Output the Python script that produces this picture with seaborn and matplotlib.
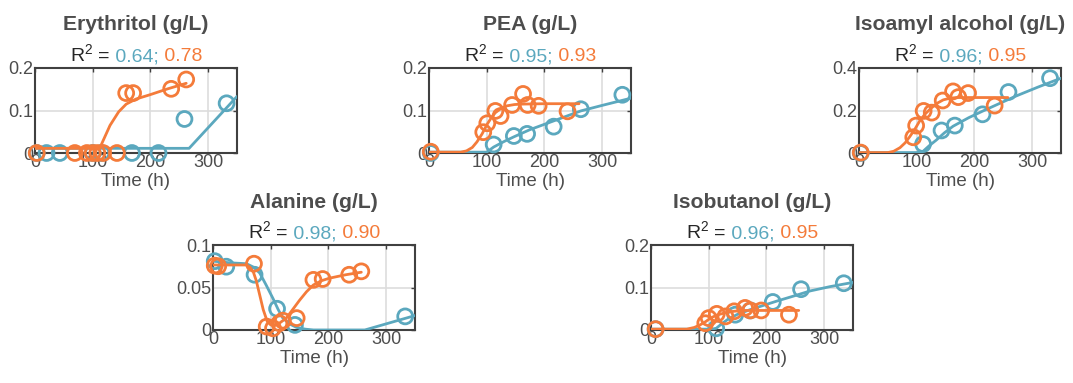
import numpy as np
import pandas as pd
import seaborn as sns
import matplotlib
matplotlib.use('Agg')
import matplotlib.pyplot as plt
from matplotlib.ticker import FuncFormatter
from matplotlib.offsetbox import TextArea, HPacker, AnchoredOffsetbox

# colours for the two strains
teal = '#5BA8BE'
orange = '#F47B3A'

# ---------------- data ----------------
# Erythritol
ery_t_teal = [3, 20, 43, 100, 115, 168, 214, 259, 332]
ery_v_teal = [0, 0, 0, 0, 0, 0, 0, 0.080, 0.117]
ery_t_orng = [3, 69, 90, 100, 108, 118, 142, 158, 170, 236, 262]
ery_v_orng = [0, 0, 0, 0, 0, 0, 0, 0.141, 0.141, 0.151, 0.173]
ery_fit_t_teal = [0, 267, 350]
ery_fit_v_teal = [0.011, 0.011, 0.133]
ery_fit_t_orng = [0, 112, 120, 130, 145, 158, 175, 199, 230, 262]
ery_fit_v_orng = [0.011, 0.011, 0.035, 0.065, 0.097, 0.115, 0.127, 0.137, 0.151, 0.164]

# PEA
pea_t_teal = [3, 112, 147, 170, 216, 263, 335]
pea_v_teal = [0, 0.020, 0.040, 0.045, 0.062, 0.103, 0.137]
pea_t_orng = [3, 94, 101, 115, 124, 144, 163, 171, 190, 240]
pea_v_orng = [0.003, 0.049, 0.070, 0.099, 0.087, 0.113, 0.139, 0.113, 0.111, 0.098]
pea_fit_t_teal = [0, 100, 112, 130, 147, 175, 205, 235, 263, 300, 350]
pea_fit_v_teal = [0.002, 0.002, 0.014, 0.027, 0.038, 0.055, 0.070, 0.085, 0.099, 0.112, 0.129]
pea_fit_t_orng = [0, 55, 65, 75, 83, 92, 100, 108, 115, 125, 135, 148, 160, 200, 260]
pea_fit_v_orng = [0.002, 0.002, 0.005, 0.013, 0.026, 0.045, 0.066, 0.083, 0.095, 0.105,
                  0.111, 0.114, 0.115, 0.116, 0.116]

# Isoamyl alcohol
iso_t_teal = [3, 111, 143, 166, 214, 259, 331]
iso_v_teal = [0, 0.042, 0.106, 0.129, 0.182, 0.287, 0.352]
iso_t_orng = [3, 94, 99, 112, 126, 145, 163, 172, 189, 235]
iso_v_orng = [0.002, 0.074, 0.129, 0.198, 0.190, 0.247, 0.290, 0.263, 0.282, 0.223]
iso_fit_t_teal = [0, 100, 111, 122, 134, 148, 163, 190, 215, 245, 272, 310, 350]
iso_fit_v_teal = [0.002, 0.002, 0.008, 0.035, 0.061, 0.095, 0.126, 0.166, 0.198, 0.235,
                  0.268, 0.310, 0.352]
iso_fit_t_orng = [0, 50, 60, 71, 80, 88, 97, 105, 114, 123, 134, 146, 158, 169, 200, 258]
iso_fit_v_orng = [0.002, 0.002, 0.008, 0.025, 0.048, 0.077, 0.113, 0.150, 0.182, 0.206,
                  0.232, 0.250, 0.258, 0.261, 0.261, 0.261]

# Alanine
ala_t_teal = [3, 23, 72, 111, 142, 333]
ala_v_teal = [0.081, 0.0745, 0.065, 0.025, 0.006, 0.016]
ala_t_orng = [3, 9, 71, 93, 104, 115, 121, 145, 174, 190, 236, 257]
ala_v_orng = [0.0757, 0.075, 0.078, 0.004, 0.002, 0.008, 0.011, 0.014, 0.059, 0.060, 0.065, 0.069]
ala_fit_t_teal = [0, 30, 58, 70, 81, 92, 104, 113, 121, 133, 145, 160, 174, 263, 350]
ala_fit_v_teal = [0.081, 0.079, 0.078, 0.074, 0.067, 0.053, 0.037, 0.024, 0.014, 0.007,
                  0.003, 0.001, 0, 0, 0.017]
ala_fit_t_orng = [0, 30, 58, 64, 70, 75, 81, 87, 94, 100, 106, 115, 127, 138, 150, 162,
                  174, 188, 202, 230, 257]
ala_fit_v_orng = [0.0765, 0.0765, 0.0765, 0.074, 0.068, 0.058, 0.041, 0.024, 0.010, 0.006,
                  0.005, 0.008, 0.014, 0.024, 0.035, 0.045, 0.053, 0.058, 0.061, 0.065, 0.068]

# Isobutanol
ibu_t_teal = [8, 113, 146, 172, 211, 260, 334]
ibu_v_teal = [0.002, 0.004, 0.036, 0.046, 0.066, 0.096, 0.110]
ibu_t_orng = [8, 94, 100, 114, 129, 144, 163, 172, 191, 239]
ibu_v_orng = [0.002, 0.016, 0.028, 0.038, 0.032, 0.044, 0.052, 0.046, 0.046, 0.036]
ibu_fit_t_teal = [0, 105, 113, 122, 132, 150, 172, 195, 218, 245, 276, 310, 350]
ibu_fit_v_teal = [0.002, 0.002, 0.004, 0.014, 0.024, 0.037, 0.048, 0.058, 0.068, 0.079,
                  0.092, 0.102, 0.112]
ibu_fit_t_orng = [0, 62, 75, 85, 95, 103, 114, 127, 143, 160, 200, 256]
ibu_fit_v_orng = [0.002, 0.002, 0.006, 0.012, 0.020, 0.028, 0.035, 0.040, 0.044, 0.046,
                  0.046, 0.046]

titles = ['Erythritol (g/L)', 'PEA (g/L)', 'Isoamyl alcohol (g/L)', 'Alanine (g/L)', 'Isobutanol (g/L)']
r2_teal = ['0.64', '0.95', '0.96', '0.98', '0.96']
r2_orng = ['0.78', '0.93', '0.95', '0.90', '0.95']
ylims = [0.2, 0.2, 0.4, 0.1, 0.2]
yticks = [[0, 0.1, 0.2], [0, 0.1, 0.2], [0, 0.2, 0.4], [0, 0.05, 0.1], [0, 0.1, 0.2]]
xticks = [0, 100, 200, 300]

panels = [
    (ery_t_teal, ery_v_teal, ery_t_orng, ery_v_orng, ery_fit_t_teal, ery_fit_v_teal, ery_fit_t_orng, ery_fit_v_orng),
    (pea_t_teal, pea_v_teal, pea_t_orng, pea_v_orng, pea_fit_t_teal, pea_fit_v_teal, pea_fit_t_orng, pea_fit_v_orng),
    (iso_t_teal, iso_v_teal, iso_t_orng, iso_v_orng, iso_fit_t_teal, iso_fit_v_teal, iso_fit_t_orng, iso_fit_v_orng),
    (ala_t_teal, ala_v_teal, ala_t_orng, ala_v_orng, ala_fit_t_teal, ala_fit_v_teal, ala_fit_t_orng, ala_fit_v_orng),
    (ibu_t_teal, ibu_v_teal, ibu_t_orng, ibu_v_orng, ibu_fit_t_teal, ibu_fit_v_teal, ibu_fit_t_orng, ibu_fit_v_orng),
]

# ---------------- style ----------------
sns.set_style('white')
plt.rcParams['font.family'] = ['Liberation Sans', 'DejaVu Sans']
plt.rcParams['mathtext.fontset'] = 'custom'
plt.rcParams['mathtext.rm'] = 'Liberation Sans'
plt.rcParams['mathtext.it'] = 'Liberation Sans'

W, H = 1073, 383
fig = plt.figure(figsize=(W / 100, H / 100), dpi=100)

# axes boxes in pixels: left, top
boxes = [(35, 68), (429, 68), (859, 68), (213, 245), (651, 245)]
aw, ah = 202, 85

dark = '#404040'
txt = '#4D4D4D'

for i, (box, data) in enumerate(zip(boxes, panels)):
    left, top = box
    ax = fig.add_axes([left / W, (H - top - ah) / H, aw / W, ah / H])
    t_te, v_te, t_or, v_or, ft_te, fv_te, ft_or, fv_or = data

    sns.scatterplot(x=t_te, y=v_te, ax=ax, marker='o', s=115, color=teal,
                    facecolor='none', edgecolor=teal, linewidth=2.0, clip_on=False, zorder=3)
    sns.lineplot(x=ft_te, y=fv_te, ax=ax, color=teal, linewidth=2.0, sort=False,
                 estimator=None, zorder=4)
    sns.scatterplot(x=t_or, y=v_or, ax=ax, marker='o', s=115, color=orange,
                    facecolor='none', edgecolor=orange, linewidth=2.0, clip_on=False, zorder=5)
    sns.lineplot(x=ft_or, y=fv_or, ax=ax, color=orange, linewidth=2.0, sort=False,
                 estimator=None, zorder=6)

    ax.set_xlim(0, 350)
    ax.set_ylim(0, ylims[i])
    ax.set_xticks(xticks)
    ax.set_yticks(yticks[i])
    ax.yaxis.set_major_formatter(FuncFormatter(lambda v, p: '%g' % v))
    ax.grid(True, color='#DDDDDD', linewidth=1.2)
    ax.set_axisbelow(True)
    for sp in ax.spines.values():
        sp.set_color(dark)
        sp.set_linewidth(1.5)
        sp.set_visible(True)
    ax.tick_params(direction='in', length=3, width=1.0, colors=dark, labelsize=13,
                   labelcolor=txt, top=True, right=True)
    ax.tick_params(axis='x', pad=0.5)
    ax.tick_params(axis='y', pad=1.5)
    ax.set_xlabel('Time (h)', fontsize=13.5, color=txt, labelpad=1.5)
    ax.set_ylabel('')
    ax.set_title(titles[i], fontsize=15.2, fontweight='bold', color=txt, pad=27)

    # R^2 line with coloured values
    parts = [TextArea('R$^2$ =', textprops=dict(color='#262626', fontsize=14)),
             TextArea(' ' + r2_teal[i] + ';', textprops=dict(color=teal, fontsize=14)),
             TextArea(' ' + r2_orng[i], textprops=dict(color=orange, fontsize=14))]
    box_r2 = HPacker(children=parts, align='baseline', pad=0, sep=0)
    anch = AnchoredOffsetbox(loc='lower center', child=box_r2, pad=0, borderpad=0,
                             frameon=False, bbox_to_anchor=(0.5, 1.03),
                             bbox_transform=ax.transAxes)
    ax.add_artist(anch)

fig.savefig('out.png', dpi=100)
